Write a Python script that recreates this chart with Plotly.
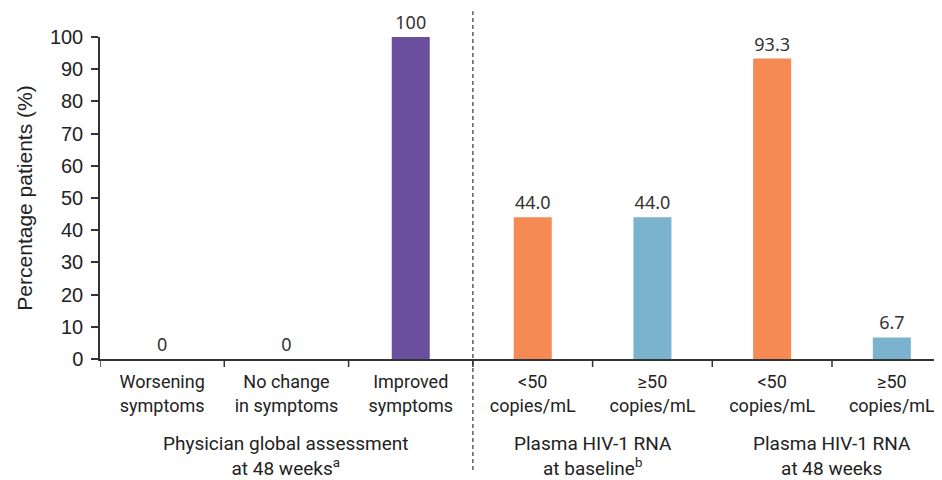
import plotly.graph_objects as go

# ---- data ----
categories = ["Worsening<br>symptoms", "No change<br>in symptoms", "Improved<br>symptoms",
              "<50<br>copies/mL", "≥50<br>copies/mL", "<50<br>copies/mL", "≥50<br>copies/mL"]
values = [0, 0, 100, 44.0, 44.0, 93.3, 6.7]
value_labels = ["0", "0", "100", "44.0", "44.0", "93.3", "6.7"]
group_labels = ["Physician global assessment<br>at 48 weeks<sup>a</sup>",
                "Plasma HIV-1 RNA<br>at baseline<sup>b</sup>",
                "Plasma HIV-1 RNA<br>at 48 weeks"]
y_ticks = [0, 10, 20, 30, 40, 50, 60, 70, 80, 90, 100]

# ---- style / layout ----
colors = ["#6A4F9E", "#6A4F9E", "#6A4F9E", "#F58A55", "#7BB3CE", "#F58A55", "#7BB3CE"]
W1, W2 = 124.3, 119.7  # category widths (px units) for left and right groups
centers = []
for i in range(len(categories)):
    if i < 3:
        centers.append(i * W1 + W1 / 2)
    else:
        centers.append(3 * W1 + (i - 3) * W2 + W2 / 2)
bounds = [0] + [i * W1 for i in range(1, 4)] + [3 * W1 + j * W2 for j in range(1, 5)]
divider = 3 * W1
group_x = [(3 * W1) / 2, 3 * W1 + W2, 3 * W1 + 3 * W2]

fig = go.Figure()
fig.add_trace(go.Bar(
    x=centers, y=values, width=38,
    marker=dict(color=colors, line=dict(width=0)),
    text=value_labels, textposition="outside", cliponaxis=False,
    textfont=dict(family="Noto Sans", size=18, color="#333333"),
))

shapes = []
for b in bounds:
    shapes.append(dict(type="line", xref="x", yref="paper", x0=b, x1=b, y0=0, y1=-0.025,
                       line=dict(color="#333333", width=1.5)))
shapes.append(dict(type="line", xref="x", yref="paper", x0=divider, x1=divider,
                   y0=-0.345, y1=1.08, line=dict(color="#333333", width=1.2, dash="4px,3px")))

annotations = []
for gx, gl in zip(group_x, group_labels):
    annotations.append(dict(x=gx, y=-0.30, xref="x", yref="paper", text=gl, showarrow=False,
                            xanchor="center", yanchor="middle",
                            font=dict(family="Roboto", size=19, color="#222222")))

fig.update_layout(
    width=934, height=472,
    margin=dict(l=92, r=0, t=29, b=121),
    paper_bgcolor="white", plot_bgcolor="white",
    showlegend=False,
    shapes=shapes, annotations=annotations,
    xaxis=dict(range=[0, 842], tickvals=centers, ticktext=categories, ticks="",
               showline=True, linecolor="#333333", linewidth=1.5, showgrid=False, zeroline=False,
               ticklabelstandoff=6,
               tickfont=dict(family="Roboto", size=18, color="#222222"), fixedrange=True),
    yaxis=dict(range=[0, 100], tickvals=y_ticks, ticks="outside", ticklen=7, tickwidth=1.5,
               tickcolor="#333333", showline=True, linecolor="#333333", linewidth=1.5,
               showgrid=False, zeroline=False, ticklabelstandoff=4,
               tickfont=dict(family="Liberation Sans", size=20, color="#222222"),
               title=dict(text="Percentage patients (%)", standoff=12,
                          font=dict(family="Liberation Sans", size=21, color="#222222"))),
)

fig.write_html("out.html")
